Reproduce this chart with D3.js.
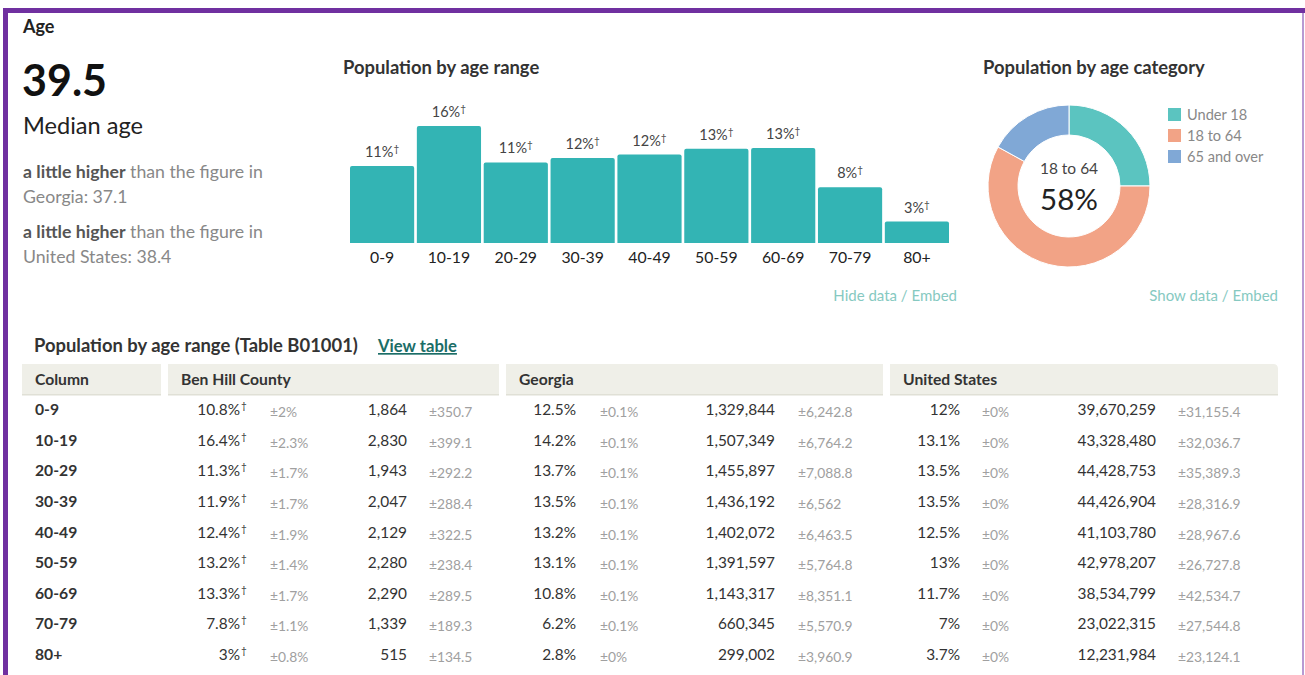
<!DOCTYPE html>
<html>
<head>
<meta charset="utf-8">
<script src="https://cdn.jsdelivr.net/npm/d3@7"></script>
<style>
  body { margin: 0; background: #fff; }
  svg { display: block; font-family: Lato, "Open Sans", sans-serif; }
</style>
</head>
<body>
<svg id="chart"></svg>
<script>
// data
const ageRanges = ["0-9", "10-19", "20-29", "30-39", "40-49", "50-59", "60-69", "70-79", "80+"];
const benHillPct = [10.8, 16.4, 11.3, 11.9, 12.4, 13.2, 13.3, 7.8, 3];
const benHillPctMoe = [2, 2.3, 1.7, 1.7, 1.9, 1.4, 1.7, 1.1, 0.8];
const benHillCount = [1864, 2830, 1943, 2047, 2129, 2280, 2290, 1339, 515];
const benHillCountMoe = [350.7, 399.1, 292.2, 288.4, 322.5, 238.4, 289.5, 189.3, 134.5];
const georgiaPct = [12.5, 14.2, 13.7, 13.5, 13.2, 13.1, 10.8, 6.2, 2.8];
const georgiaPctMoe = [0.1, 0.1, 0.1, 0.1, 0.1, 0.1, 0.1, 0.1, 0];
const georgiaCount = [1329844, 1507349, 1455897, 1436192, 1402072, 1391597, 1143317, 660345, 299002];
const georgiaCountMoe = [6242.8, 6764.2, 7088.8, 6562, 6463.5, 5764.8, 8351.1, 5570.9, 3960.9];
const usPct = [12, 13.1, 13.5, 13.5, 12.5, 13, 11.7, 7, 3.7];
const usPctMoe = [0, 0, 0, 0, 0, 0, 0, 0, 0];
const usCount = [39670259, 43328480, 44428753, 44426904, 41103780, 42978207, 38534799, 23022315, 12231984];
const usCountMoe = [31155.4, 32036.7, 35389.3, 28316.9, 28967.6, 26727.8, 42534.7, 27544.8, 23124.1];

const categories = ["Under 18", "18 to 64", "65 and over"];
const categoryPct = [25, 58, 17];

const medianAge = 39.5;
const georgiaMedian = 37.1;
const usMedian = 38.4;

const width = 1305, height = 675;
const svg = d3.select("#chart").attr("width", width).attr("height", height);

// purple frame
svg.append("rect").attr("x", 3).attr("y", 8).attr("width", 1302).attr("height", 5).attr("fill", "#7030a0");
svg.append("rect").attr("x", 3).attr("y", 8).attr("width", 5).attr("height", 667).attr("fill", "#7030a0");
svg.append("rect").attr("x", 1302).attr("y", 13).attr("width", 2).attr("height", 662).attr("fill", "#b79ad3");

// left summary
svg.append("text").attr("x", 23).attr("y", 33).text("Age")
  .style("font-size", "18px").style("font-weight", "bold").attr("fill", "#222");
svg.append("text").attr("x", 22).attr("y", 96).text(medianAge)
  .style("font-size", "43px").style("font-weight", "bold").attr("fill", "#111");
svg.append("text").attr("x", 23).attr("y", 134).text("Median age")
  .style("font-size", "23.6px").attr("fill", "#222");

function comparison(y, place, value) {
  const t = svg.append("text").attr("x", 23).attr("y", y).style("font-size", "17.7px").attr("fill", "#888");
  t.append("tspan").text("a little higher").style("font-weight", "bold").attr("fill", "#555");
  t.append("tspan").text(" than the figure in");
  svg.append("text").attr("x", 23).attr("y", y + 25).text(place + ": " + value)
    .style("font-size", "17.7px").attr("fill", "#888");
}
comparison(178, "Georgia", georgiaMedian);
comparison(238, "United States", usMedian);

// bar chart
svg.append("text").attr("x", 343).attr("y", 74).text("Population by age range")
  .style("font-size", "18.4px").style("font-weight", "bold").attr("fill", "#333");

const x = d3.scaleBand().domain(ageRanges).range([350, 949]).paddingInner(0.04);
const y = d3.scaleLinear().domain([0, 16.4]).range([243, 126]);

svg.selectAll(".bar")
  .data(benHillPct)
  .join("path")
  .attr("class", "bar")
  .attr("fill", "#33b4b4")
  .attr("d", (d, i) => {
    const x0 = x(ageRanges[i]), x1 = x0 + x.bandwidth(), y0 = y(d), yb = y(0), r = 2;
    return `M${x0},${yb}V${y0 + r}Q${x0},${y0} ${x0 + r},${y0}H${x1 - r}Q${x1},${y0} ${x1},${y0 + r}V${yb}Z`;
  });

const barLabels = svg.selectAll(".barlabel")
  .data(benHillPct)
  .join("text")
  .attr("class", "barlabel")
  .attr("x", (d, i) => x(ageRanges[i]) + x.bandwidth() / 2)
  .attr("y", d => y(d) - 9)
  .attr("text-anchor", "middle")
  .style("font-size", "14.5px")
  .attr("fill", "#444");
barLabels.append("tspan").text(d => Math.round(d) + "%");
barLabels.append("tspan").text("†").attr("dy", -5).style("font-size", "10px");

svg.selectAll(".xlabel")
  .data(ageRanges)
  .join("text")
  .attr("class", "xlabel")
  .attr("x", d => x(d) + x.bandwidth() / 2)
  .attr("y", 263)
  .attr("text-anchor", "middle")
  .style("font-size", "15.8px")
  .attr("fill", "#222")
  .text(d => d);

svg.append("text").attr("x", 957).attr("y", 301).attr("text-anchor", "end")
  .text("Hide data / Embed").style("font-size", "15px").attr("fill", "#86c9c1");

// donut
svg.append("text").attr("x", 983).attr("y", 74).text("Population by age category")
  .style("font-size", "18.4px").style("font-weight", "bold").attr("fill", "#333");

const donutColors = d3.scaleOrdinal().domain(categories).range(["#5bc4c0", "#f2a386", "#80a8d6"]);
const pie = d3.pie().sort(null).value(d => d);
const arc = d3.arc().innerRadius(51).outerRadius(81);
const donut = svg.append("g").attr("transform", "translate(1069,186)");
donut.selectAll("path")
  .data(pie(categoryPct))
  .join("path")
  .attr("d", arc)
  .attr("fill", (d, i) => donutColors(categories[i]))
  .attr("stroke", "#fff")
  .attr("stroke-width", 1);
donut.append("text").attr("y", -12).attr("text-anchor", "middle").text(categories[1])
  .style("font-size", "15.5px").attr("fill", "#444");
donut.append("text").attr("y", 24).attr("text-anchor", "middle").text(categoryPct[1] + "%")
  .style("font-size", "29.5px").attr("fill", "#222");

const legend = svg.selectAll(".legend")
  .data(categories)
  .join("g")
  .attr("class", "legend")
  .attr("transform", (d, i) => `translate(1168,${108 + i * 21})`);
legend.append("rect").attr("width", 13).attr("height", 13).attr("fill", d => donutColors(d));
legend.append("text").attr("x", 19).attr("y", 11.5).text(d => d)
  .style("font-size", "14.6px").attr("fill", "#888");

svg.append("text").attr("x", 1278).attr("y", 301).attr("text-anchor", "end")
  .text("Show data / Embed").style("font-size", "15px").attr("fill", "#86c9c1");

// table
svg.append("text").attr("x", 34).attr("y", 352).text("Population by age range (Table B01001)")
  .style("font-size", "18.4px").style("font-weight", "bold").attr("fill", "#333");
svg.append("text").attr("x", 378).attr("y", 352).text("View table")
  .style("font-size", "16.7px").style("font-weight", "bold").attr("fill", "#1b6d67")
  .style("text-decoration", "underline");

const headers = [
  { name: "Column", x0: 22, x1: 161 },
  { name: "Ben Hill County", x0: 168, x1: 499 },
  { name: "Georgia", x0: 506, x1: 883 },
  { name: "United States", x0: 890, x1: 1278 }
];
svg.selectAll(".hdr")
  .data(headers)
  .join("path")
  .attr("class", "hdr")
  .attr("fill", "#efefe8")
  .attr("d", (d, i) => {
    const r = i === 3 ? 5 : 0;
    return `M${d.x0},364H${d.x1 - r}Q${d.x1},364 ${d.x1},${364 + r}V395H${d.x0}Z`;
  });
svg.selectAll(".hdrline")
  .data(headers)
  .join("rect")
  .attr("class", "hdrline")
  .attr("x", d => d.x0).attr("y", 394).attr("width", d => d.x1 - d.x0).attr("height", 1.5)
  .attr("fill", "#e0e0d6");
svg.selectAll(".hdrtext")
  .data(headers)
  .join("text")
  .attr("class", "hdrtext")
  .attr("x", d => d.x0 + 13)
  .attr("y", 385)
  .text(d => d.name)
  .style("font-size", "15.7px").style("font-weight", "bold").attr("fill", "#333");

const fmtPct = d3.format(".1~f");
const fmtCount = d3.format(",");
const fmtMoe = d3.format(",.1~f");

const rowY = d3.scalePoint().domain(ageRanges).range([415, 660]);

svg.selectAll(".rowlabel")
  .data(ageRanges)
  .join("text")
  .attr("class", "rowlabel")
  .attr("x", 35)
  .attr("y", d => rowY(d))
  .text(d => d)
  .style("font-size", "15.7px").style("font-weight", "bold").attr("fill", "#333");

const geos = [
  { pct: benHillPct, pctMoe: benHillPctMoe, count: benHillCount, countMoe: benHillCountMoe, dagger: true,
    pctX: 240, pctMoeX: 270, countX: 407, countMoeX: 429 },
  { pct: georgiaPct, pctMoe: georgiaPctMoe, count: georgiaCount, countMoe: georgiaCountMoe, dagger: false,
    pctX: 576, pctMoeX: 600, countX: 775, countMoeX: 798 },
  { pct: usPct, pctMoe: usPctMoe, count: usCount, countMoe: usCountMoe, dagger: false,
    pctX: 960, pctMoeX: 982, countX: 1156, countMoeX: 1178 }
];

geos.forEach(g => {
  const grp = svg.append("g");
  grp.selectAll(".pct")
    .data(g.pct)
    .join("text")
    .attr("x", g.pctX)
    .attr("y", (d, i) => rowY(ageRanges[i]))
    .attr("text-anchor", "end")
    .style("font-size", "15.4px").attr("fill", "#333")
    .text(d => fmtPct(d) + "%");
  if (g.dagger) {
    grp.selectAll(".dag")
      .data(g.pct)
      .join("text")
      .attr("x", g.pctX + 1)
      .attr("y", (d, i) => rowY(ageRanges[i]) - 6)
      .style("font-size", "10px").attr("fill", "#333")
      .text("†");
  }
  grp.selectAll(".pmoe")
    .data(g.pctMoe)
    .join("text")
    .attr("x", g.pctMoeX)
    .attr("y", (d, i) => rowY(ageRanges[i]) + 2)
    .style("font-size", "13.8px").attr("fill", "#a0a0a0")
    .text(d => "±" + fmtPct(d) + "%");
  grp.selectAll(".cnt")
    .data(g.count)
    .join("text")
    .attr("x", g.countX)
    .attr("y", (d, i) => rowY(ageRanges[i]))
    .attr("text-anchor", "end")
    .style("font-size", "15.4px").attr("fill", "#333")
    .text(d => fmtCount(d));
  grp.selectAll(".cmoe")
    .data(g.countMoe)
    .join("text")
    .attr("x", g.countMoeX)
    .attr("y", (d, i) => rowY(ageRanges[i]) + 2)
    .style("font-size", "13.8px").attr("fill", "#a0a0a0")
    .text(d => "±" + fmtMoe(d));
});
</script>
</body>
</html>
